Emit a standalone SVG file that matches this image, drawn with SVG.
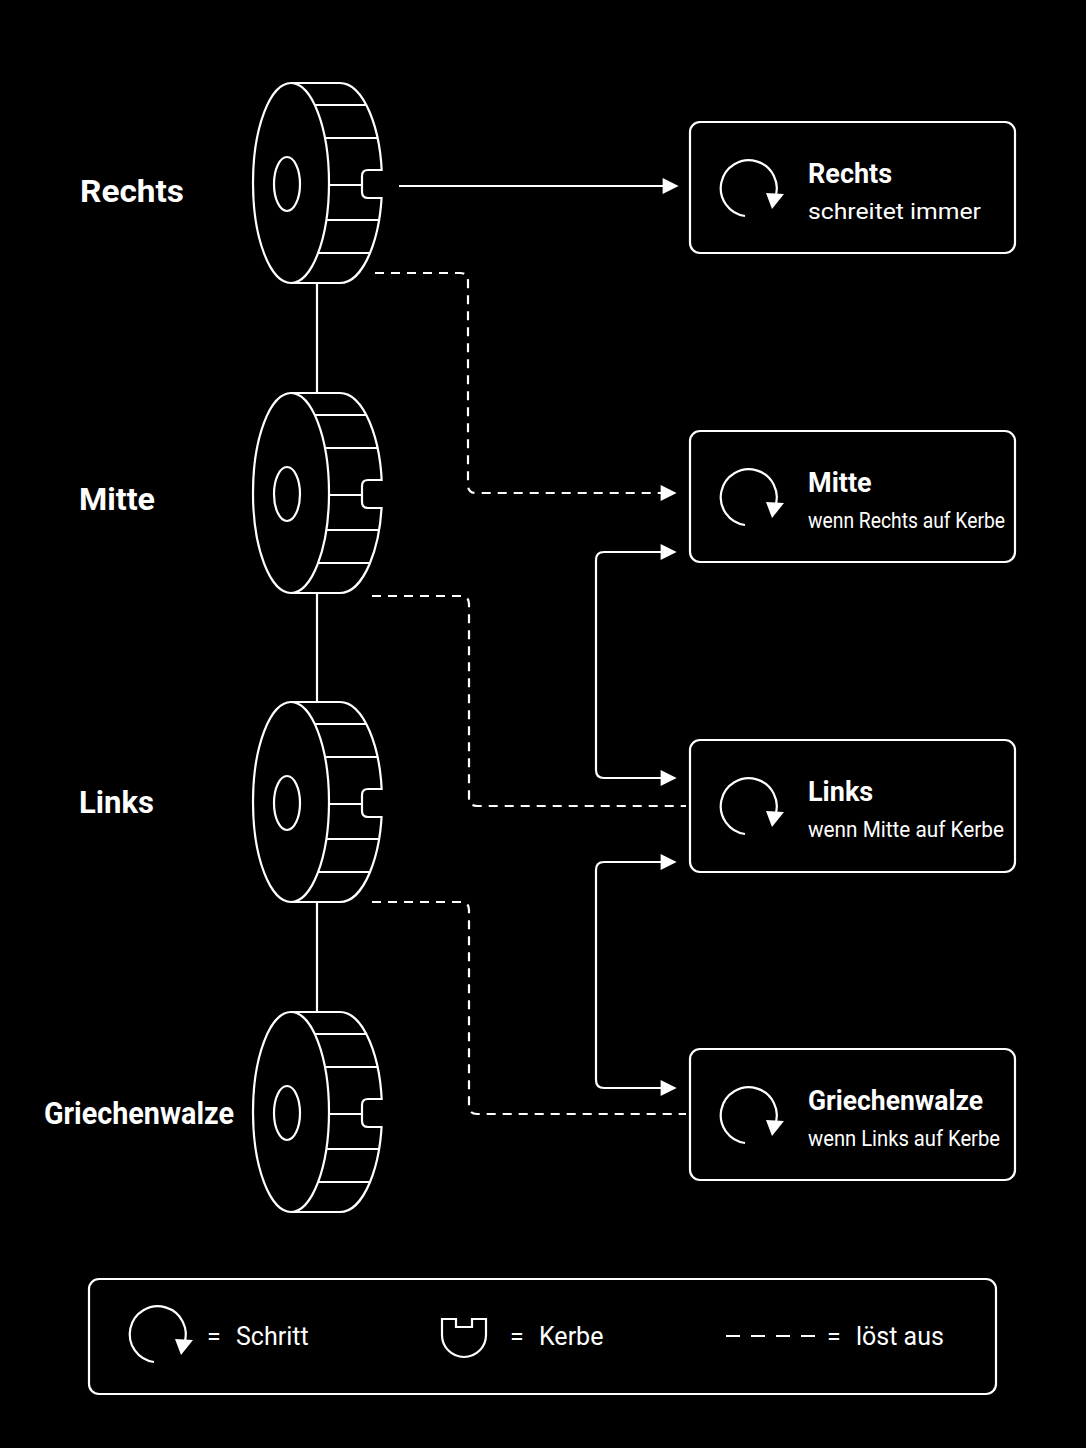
<svg xmlns="http://www.w3.org/2000/svg" xmlns:xlink="http://www.w3.org/1999/xlink" width="1086" height="1448" viewBox="0 0 1086 1448">
<style>
.s{fill:none;stroke:#fff;stroke-width:2.2}
.d{fill:none;stroke:#fff;stroke-width:2.2;stroke-dasharray:9 7}
.lbl{fill:#fff;font-family:Roboto,"Liberation Sans",sans-serif;font-weight:bold;font-size:31px}
.t{fill:#fff;font-family:Roboto,"Liberation Sans",sans-serif;font-weight:bold;font-size:27px}
.st{fill:#fff;font-family:Roboto,"Liberation Sans",sans-serif;font-size:22px}
.lg{fill:#fff;font-family:Roboto,"Liberation Sans",sans-serif;font-size:25px}
</style>
<defs>
<marker id="ah" viewBox="0 0 10 10" refX="9" refY="5" markerWidth="17" markerHeight="16" markerUnits="userSpaceOnUse" orient="auto-start-reverse"><path d="M0,0L10,5L0,10Z" fill="#fff"/></marker>
<g id="rotor">
<ellipse class="s" cx="291" cy="183" rx="38" ry="100"/>
<ellipse class="s" cx="287" cy="184" rx="13" ry="27"/>
<path class="s" d="M291,83H340A42,100 0 0 1 340,283H291"/>
<rect x="364" y="171" width="24" height="26" fill="#000"/>
<path class="s" d="M382,170H368q-6,0 -6,6v16q0,6 6,6h14"/>
<path class="s" d="M315,105H366M325,138H377M329,185H362M326,220H379M318,253H370"/>
</g>
<g id="step">
<path class="s" d="M-4,28A28,28 0 1 1 26,10" stroke-width="2.6"/>
<path d="M17,5L35,6L23,21Z" fill="#fff"/>
</g>
</defs>
<rect width="1086" height="1448" fill="#000"/>
<g id="connectors">
<path class="s" d="M317,283V393M317,593V702M317,902V1012"/>
<path class="s" d="M399,186H677" marker-end="url(#ah)"/>
<path class="d" d="M375,273H460q8,0 8,8V485q0,8 8,8H675" marker-end="url(#ah)"/>
<path class="d" d="M372,596H461q8,0 8,8V798q0,8 8,8H686"/>
<path class="d" d="M372,902H461q8,0 8,8V1106q0,8 8,8H686"/>
<path class="s" d="M675,552H604q-8,0 -8,8V770q0,8 8,8H675" marker-start="url(#ah)" marker-end="url(#ah)"/>
<path class="s" d="M675,862H604q-8,0 -8,8V1080q0,8 8,8H675" marker-start="url(#ah)" marker-end="url(#ah)"/>
</g>
<g id="rotor-rechts"><use xlink:href="#rotor"/><text class="lbl" x="80" y="202" textLength="104" lengthAdjust="spacingAndGlyphs">Rechts</text></g>
<g id="rotor-mitte"><use xlink:href="#rotor" y="310"/><text class="lbl" x="79" y="510" textLength="76" lengthAdjust="spacingAndGlyphs">Mitte</text></g>
<g id="rotor-links"><use xlink:href="#rotor" y="619"/><text class="lbl" x="79" y="813" textLength="75" lengthAdjust="spacingAndGlyphs">Links</text></g>
<g id="rotor-griechenwalze"><use xlink:href="#rotor" y="929"/><text class="lbl" x="44" y="1124" textLength="190" lengthAdjust="spacingAndGlyphs">Griechenwalze</text></g>
<g id="box-rechts"><rect class="s" x="690" y="122" width="325" height="131" rx="10"/><use xlink:href="#step" x="749" y="188"/><text class="t" x="808" y="183">Rechts</text><text class="st" x="808" y="219" textLength="173" lengthAdjust="spacingAndGlyphs">schreitet immer</text></g>
<g id="box-mitte"><rect class="s" x="690" y="431" width="325" height="131" rx="10"/><use xlink:href="#step" x="749" y="497"/><text class="t" x="808" y="492">Mitte</text><text class="st" x="808" y="528" textLength="197" lengthAdjust="spacingAndGlyphs">wenn Rechts auf Kerbe</text></g>
<g id="box-links"><rect class="s" x="690" y="740" width="325" height="132" rx="10"/><use xlink:href="#step" x="749" y="806"/><text class="t" x="808" y="801">Links</text><text class="st" x="808" y="837" textLength="196" lengthAdjust="spacingAndGlyphs">wenn Mitte auf Kerbe</text></g>
<g id="box-griechenwalze"><rect class="s" x="690" y="1049" width="325" height="131" rx="10"/><use xlink:href="#step" x="749" y="1115"/><text class="t" x="808" y="1110" textLength="175" lengthAdjust="spacingAndGlyphs">Griechenwalze</text><text class="st" x="808" y="1146" textLength="192" lengthAdjust="spacingAndGlyphs">wenn Links auf Kerbe</text></g>
<g id="legend">
<rect class="s" x="89" y="1279" width="907" height="115" rx="10"/>
<use xlink:href="#step" x="158" y="1334"/>
<text class="lg" x="207" y="1345">=</text><text class="lg" x="236" y="1345">Schritt</text>
<path class="s" d="M442,1319V1335A22,22 0 0 0 486,1335V1319H472V1327H456V1319Z"/>
<text class="lg" x="510" y="1345">=</text><text class="lg" x="539" y="1345">Kerbe</text>
<path class="s" d="M726,1336H815" style="stroke-dasharray:14 11"/>
<text class="lg" x="827" y="1345">=</text><text class="lg" x="856" y="1345">löst aus</text>
</g>
</svg>
